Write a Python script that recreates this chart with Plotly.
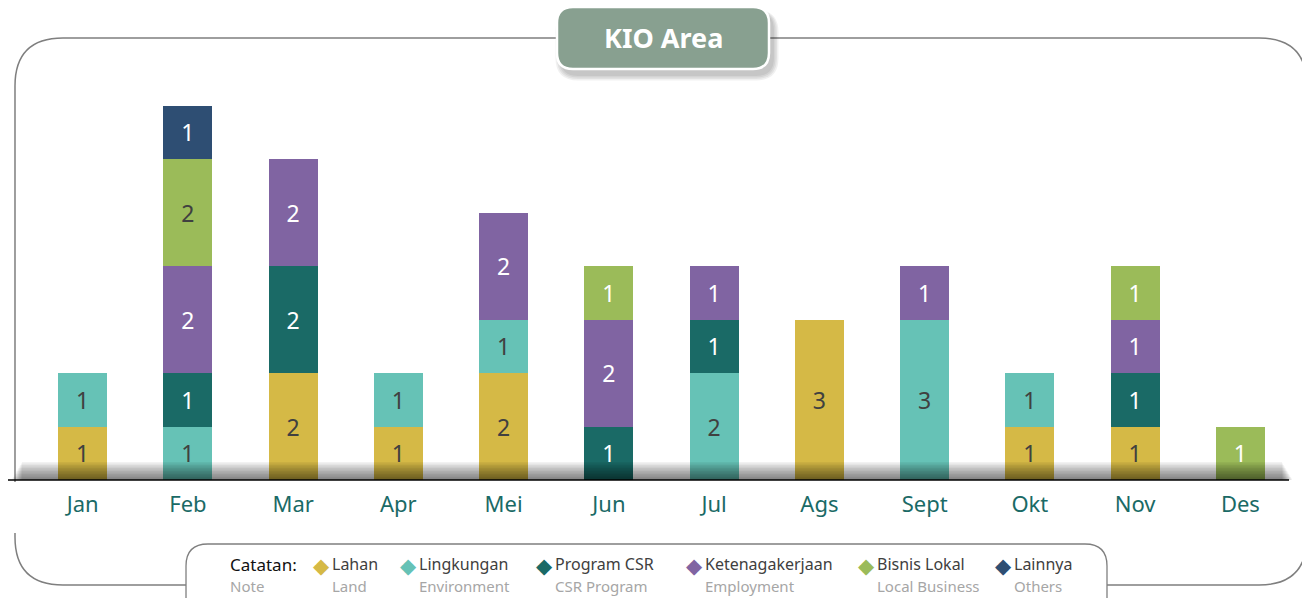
import plotly.graph_objects as go

months = ["Jan", "Feb", "Mar", "Apr", "Mei", "Jun", "Jul", "Ags", "Sept", "Okt", "Nov", "Des"]

lahan = [1, 0, 2, 1, 2, 0, 0, 3, 0, 1, 1, 0]
lingkungan = [1, 1, 0, 1, 1, 0, 2, 0, 3, 1, 0, 0]
program_csr = [0, 1, 2, 0, 0, 1, 1, 0, 0, 0, 1, 0]
ketenagakerjaan = [0, 2, 2, 0, 2, 2, 1, 0, 1, 0, 1, 0]
bisnis_lokal = [0, 2, 0, 0, 0, 1, 0, 0, 0, 0, 1, 1]
lainnya = [0, 1, 0, 0, 0, 0, 0, 0, 0, 0, 0, 0]

series_names = ["Lahan", "Lingkungan", "Program CSR", "Ketenagakerjaan", "Bisnis Lokal", "Lainnya"]
series_en = ["Land", "Environment", "CSR Program", "Employment", "Local Business", "Others"]
series_values = [lahan, lingkungan, program_csr, ketenagakerjaan, bisnis_lokal, lainnya]
colors = ["#D5B946", "#66C2B6", "#1A6A66", "#8064A2", "#9BBB59", "#2E4E73"]
DARK = "#404040"
text_colors = [
    [DARK] * 12,
    [DARK] * 12,
    ["white"] * 12,
    ["white"] * 12,
    ["white" if m != "Feb" else DARK for m in months],
    ["white"] * 12,
]

# page has an 8px body margin: figure starts at screen (8, 8)
OFF = 8
W, H = 1302, 590
# plot area in screen pixels: x 30..1293, y 80..480
SX0, SX1, SY0, SY1 = 30, 1293, 80, 480
ML = SX0 - OFF
MR = (W + OFF) - SX1
MT = SY0 - OFF
MB = (H + OFF) - SY1
PW = SX1 - SX0
PH = SY1 - SY0


def px(x):
    return (x - SX0) / PW


def py(y):
    return (SY1 - y) / PH


def rr_path(x0, y0, x1, y1, r):
    pts = [
        ("M", [(x0 + r, y0)]),
        ("L", [(x1 - r, y0)]),
        ("Q", [(x1, y0), (x1, y0 + r)]),
        ("L", [(x1, y1 - r)]),
        ("Q", [(x1, y1), (x1 - r, y1)]),
        ("L", [(x0 + r, y1)]),
        ("Q", [(x0, y1), (x0, y1 - r)]),
        ("L", [(x0, y0 + r)]),
        ("Q", [(x0, y0), (x0 + r, y0)]),
    ]
    s = ""
    for cmd, ps in pts:
        s += cmd + " " + " ".join(f"{px(a):.5f},{py(b):.5f}" for a, b in ps) + " "
    return s + "Z"


fig = go.Figure()
for name, vals, col, tc in zip(series_names, series_values, colors, text_colors):
    fig.add_trace(go.Bar(
        x=months,
        y=[v if v else None for v in vals],
        name=name,
        marker=dict(color=col, line=dict(width=0)),
        text=[str(v) if v else "" for v in vals],
        textposition="inside",
        insidetextanchor="middle",
        textangle=0,
        textfont=dict(family="Noto Sans", size=23, color=tc),
        hoverinfo="skip",
    ))

shapes = []
# outer frame
shapes.append(dict(type="path", xref="paper", yref="paper", path=rr_path(15, 38, 1307, 585, 48),
                   line=dict(color="#7F7F7F", width=1.5), fillcolor="rgba(0,0,0,0)", layer="below"))
# gap on left edge under axis
shapes.append(dict(type="rect", xref="paper", yref="paper", x0=px(10), x1=px(20), y0=py(533), y1=py(482),
                   line=dict(width=0), fillcolor="white", layer="below"))
# baseline shadow
for i in range(12):
    h = 1.5 * (i + 1)
    shapes.append(dict(type="rect", xref="paper", yref="paper", x0=px(12 + i * 0.9), x1=px(1292 - i * 0.9),
                       y0=py(480), y1=py(480 - h), line=dict(width=0),
                       fillcolor="rgba(0,0,0,0.05)", layer="above"))
# axis line
shapes.append(dict(type="line", xref="paper", yref="paper", x0=px(4), x1=px(1289), y0=py(480), y1=py(480),
                   line=dict(color="black", width=1.6), layer="above"))
# legend box
shapes.append(dict(type="path", xref="paper", yref="paper", path=rr_path(186, 544, 1107, 625, 22),
                   line=dict(color="#7F7F7F", width=1.3), fillcolor="white", layer="above"))
# title shadow
for i in range(4):
    d = i * 1.5
    shapes.append(dict(type="path", xref="paper", yref="paper",
                       path=rr_path(560 - d, 12 - d / 2, 774 + d, 76 + d, 18 + d),
                       line=dict(width=0), fillcolor="rgba(0,0,0,0.06)", layer="above"))
# title box
shapes.append(dict(type="path", xref="paper", yref="paper", path=rr_path(557, 7, 769, 69, 16),
                   line=dict(color="white", width=2.5), fillcolor="#88A090", layer="above"))

annotations = []
annotations.append(dict(xref="paper", yref="paper", x=px(663), y=py(37), text="<b>KIO Area</b>",
                        showarrow=False, xanchor="center", yanchor="middle",
                        font=dict(family="Noto Sans", size=27, color="white")))

# legend
annotations.append(dict(xref="paper", yref="paper", x=px(228), y=py(564), text="Catatan:",
                        showarrow=False, xanchor="left", yanchor="middle",
                        font=dict(family="Noto Sans", size=17, color="#111111")))
annotations.append(dict(xref="paper", yref="paper", x=px(228), y=py(586), text="Note",
                        showarrow=False, xanchor="left", yanchor="middle",
                        font=dict(family="Noto Sans", size=15, color="#A6A6A6")))
leg_x = [332, 419, 555, 705, 877, 1014]
for name, en, col, lx in zip(series_names, series_en, colors, leg_x):
    annotations.append(dict(xref="paper", yref="paper", x=px(lx), y=py(566), text="◆",
                            showarrow=False, xanchor="right", yanchor="middle",
                            font=dict(family="DejaVu Sans", size=21, color=col)))
    annotations.append(dict(xref="paper", yref="paper", x=px(lx - 2), y=py(564), text=name,
                            showarrow=False, xanchor="left", yanchor="middle",
                            font=dict(family="Noto Sans", size=16, color="#404040")))
    annotations.append(dict(xref="paper", yref="paper", x=px(lx - 2), y=py(586), text=en,
                            showarrow=False, xanchor="left", yanchor="middle",
                            font=dict(family="Noto Sans", size=15, color="#A6A6A6")))

fig.update_layout(
    width=W, height=H,
    margin=dict(l=ML, r=MR, t=MT, b=MB, pad=0),
    barmode="stack",
    bargap=0.534,
    showlegend=False,
    plot_bgcolor="white",
    paper_bgcolor="white",
    shapes=shapes,
    annotations=annotations,
    uniformtext=dict(minsize=23, mode="show"),
    xaxis=dict(
        type="category",
        categoryorder="array",
        categoryarray=months,
        range=[-0.5, 11.5],
        showgrid=False,
        zeroline=False,
        showline=False,
        ticks="outside",
        ticklen=5,
        tickcolor="rgba(0,0,0,0)",
        tickfont=dict(family="Noto Sans", size=22, color="#1A6A66"),
        fixedrange=True,
    ),
    yaxis=dict(
        range=[0, PH / 53.5],
        visible=False,
        showgrid=False,
        zeroline=False,
        fixedrange=True,
    ),
)

fig.write_html("out.html")
